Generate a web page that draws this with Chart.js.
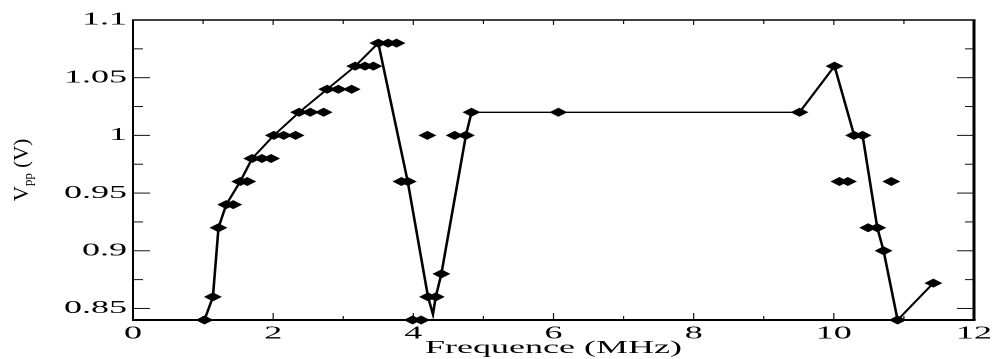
<!DOCTYPE html>
<html>
<head>
<meta charset="utf-8">
<script src="https://cdn.jsdelivr.net/npm/chart.js@4.4.1/dist/chart.umd.min.js"></script>
<style>
  html, body { margin: 0; padding: 0; background: #fff; }
  canvas { display: block; }
</style>
</head>
<body>
<!-- the reference is stretched 2x sideways, so the chart is drawn 499 wide and shown 998 wide -->
<canvas id="myChart" width="499" height="359" style="width:998px;height:359px"></canvas>
<script>
// curve through the first point of each step
const curveX = [1.02, 1.14, 1.22, 1.33, 1.53, 1.70, 2.01, 2.37, 2.77, 3.17, 3.50, 3.92, 4.21, 4.28, 4.32, 4.40, 4.75, 4.83, 6.07, 9.51, 10.01, 10.29, 10.41, 10.62, 10.71, 10.91, 11.42]
const curveY = [0.84, 0.86, 0.92, 0.94, 0.96, 0.98, 1.00, 1.02, 1.04, 1.06, 1.08, 0.96, 0.86, 0.845, 0.86, 0.88, 1.00, 1.02, 1.02, 1.02, 1.06, 1.00, 1.00, 0.92, 0.90, 0.84, 0.872]

// measured points (diamonds)
const markerX = [1.02, 3.99, 4.11, 10.91,
    1.14, 4.21, 4.32,
    4.40,
    10.71,
    1.22, 10.49, 10.62,
    1.33, 1.43,
    1.53, 1.63, 3.83, 3.92, 10.08, 10.20, 10.82,
    1.70, 1.84, 1.97,
    2.01, 2.15, 2.32, 4.20, 4.59, 4.75, 10.29, 10.41,
    2.37, 2.53, 2.72, 4.83, 6.07, 9.51,
    2.77, 2.93, 3.12,
    3.17, 3.31, 3.43, 10.01,
    3.50, 3.64, 3.76,
    11.42]
const markerY = [0.84, 0.84, 0.84, 0.84,
    0.86, 0.86, 0.86,
    0.88,
    0.90,
    0.92, 0.92, 0.92,
    0.94, 0.94,
    0.96, 0.96, 0.96, 0.96, 0.96, 0.96, 0.96,
    0.98, 0.98, 0.98,
    1.00, 1.00, 1.00, 1.00, 1.00, 1.00, 1.00, 1.00,
    1.02, 1.02, 1.02, 1.02, 1.02, 1.02,
    1.04, 1.04, 1.04,
    1.06, 1.06, 1.06, 1.06,
    1.08, 1.08, 1.08,
    0.872]

const xMajor = [0, 2, 4, 6, 8, 10, 12]
const xTickLabels = ['0', '2', '4', '6', '8', '10', '12']
const xMinor = [1, 3, 5, 7, 9, 11]
const yMajor = [0.85, 0.9, 0.95, 1, 1.05, 1.1]
const yTickLabels = ['0.85', '0.9', '0.95', '1', '1.05', '1.1']
const yMinor = [0.875, 0.925, 0.975, 1.025, 1.075]

const xTitle = 'Frequence (MHz)'
const yTitleMain = 'V'
const yTitleSub = 'pp'
const yTitleUnit = ' (V)'

const serif = "'Liberation Serif', 'DejaVu Serif', serif"

function toPoints(xs, ys) {
    const pts = []
    for (let i = 0; i < xs.length; i++) {
        pts.push({ x: xs[i], y: ys[i] })
    }
    return pts
}

// box, inside ticks on the four sides, and the y title with its subscript
const framePlugin = {
    id: 'frame',
    beforeDatasetsDraw(chart) {
        const { ctx, chartArea: a, scales: { x, y } } = chart
        ctx.save()
        ctx.strokeStyle = '#111'

        function seg(x1, y1, x2, y2) {
            ctx.beginPath()
            ctx.moveTo(x1, y1)
            ctx.lineTo(x2, y2)
            ctx.stroke()
        }

        ctx.lineWidth = 0.6
        xMajor.forEach(v => {
            const px = x.getPixelForValue(v)
            seg(px, a.bottom, px, a.bottom - 7)
            seg(px, a.top, px, a.top + 5)
        })
        xMinor.forEach(v => {
            const px = x.getPixelForValue(v)
            seg(px, a.bottom, px, a.bottom - 4)
            seg(px, a.top, px, a.top + 4)
        })

        ctx.lineWidth = 1
        yMajor.forEach(v => {
            const py = y.getPixelForValue(v)
            seg(a.left, py, a.left + 8.5, py)
            seg(a.right, py, a.right - 8.5, py)
        })
        yMinor.forEach(v => {
            const py = y.getPixelForValue(v)
            seg(a.left, py, a.left + 5, py)
            seg(a.right, py, a.right - 4.5, py)
        })

        ctx.strokeStyle = '#000'
        ctx.lineWidth = 1.5
        seg(a.left - 0.5, a.top, a.right + 0.75, a.top)
        ctx.lineWidth = 2
        seg(a.left - 0.5, a.bottom, a.right + 0.75, a.bottom)
        ctx.lineWidth = 1
        seg(a.left, a.top, a.left, a.bottom)
        ctx.lineWidth = 1.5
        seg(a.right, a.top, a.right, a.bottom)
        ctx.restore()

        // y title, drawn unstretched
        ctx.save()
        ctx.fillStyle = '#000'
        ctx.translate(11, (a.top + a.bottom) / 2)
        ctx.scale(0.5, 1)
        ctx.rotate(-Math.PI / 2)
        ctx.textBaseline = 'middle'
        ctx.font = '21px ' + serif
        const w1 = ctx.measureText(yTitleMain).width
        const w3 = ctx.measureText(yTitleUnit).width
        ctx.font = '13px ' + serif
        const w2 = ctx.measureText(yTitleSub).width
        let cx = -(w1 + w2 + w3) / 2
        ctx.font = '21px ' + serif
        ctx.fillText(yTitleMain, cx, 0)
        cx += w1
        ctx.font = '13px ' + serif
        ctx.fillText(yTitleSub, cx, 7)
        cx += w2
        ctx.font = '21px ' + serif
        ctx.fillText(yTitleUnit, cx, 0)
        ctx.restore()
    }
}

let ctx = document.getElementById('myChart')
const data = {
    datasets: [{
        label: 'courbe',
        data: toPoints(curveX, curveY),
        showLine: true,
        borderColor: '#000',
        borderWidth: 1.3,
        pointRadius: 0,
        clip: false,
    }, {
        label: 'mesures',
        data: toPoints(markerX, markerY),
        showLine: false,
        pointStyle: 'rectRot',
        pointRadius: 4.5,
        backgroundColor: '#000',
        borderColor: '#000',
        borderWidth: 0,
        clip: false,
    }]
}

const config = {
    type: 'scatter',
    data: data,
    plugins: [framePlugin],
    options: {
        responsive: false,
        devicePixelRatio: 2,
        animation: false,
        layout: { padding: { left: 0, right: 9, top: 20, bottom: 0 } },
        plugins: {
            legend: { display: false },
            tooltip: { enabled: false },
        },
        scales: {
            x: {
                type: 'linear',
                min: 0,
                max: 12,
                afterBuildTicks: s => { s.ticks = xMajor.map(v => ({ value: v })) },
                afterFit: s => { s.height = 39 },
                grid: { display: false, drawTicks: false },
                border: { display: false },
                ticks: {
                    padding: 3,
                    maxRotation: 0,
                    color: '#000',
                    font: { family: serif, size: 18 },
                    callback: (v, i) => xTickLabels[i],
                },
                title: {
                    display: true,
                    text: xTitle,
                    color: '#000',
                    font: { family: serif, size: 18 },
                    padding: { top: 0, bottom: 0 },
                }
            },
            y: {
                type: 'linear',
                min: 0.84,
                max: 1.1,
                afterBuildTicks: s => { s.ticks = yMajor.map(v => ({ value: v })) },
                afterFit: s => { s.width = 66.5 },
                grid: { display: false, drawTicks: false },
                border: { display: false },
                ticks: {
                    padding: 3,
                    color: '#000',
                    font: { family: serif, size: 18 },
                    callback: (v, i) => yTickLabels[i],
                }
            }
        }
    }
}

const myChart = new Chart(ctx, config)
</script>
</body>
</html>
